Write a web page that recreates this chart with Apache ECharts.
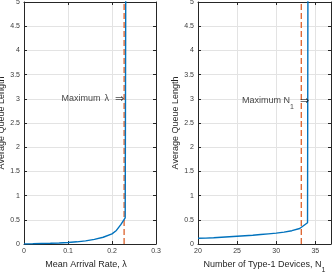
<!DOCTYPE html>
<html><head><meta charset="utf-8">
<script src="https://cdn.jsdelivr.net/npm/echarts@6/dist/echarts.min.js"></script>
<style>html,body{margin:0;padding:0;background:#fff}#c{width:332px;height:272px}</style>
</head><body><div id="c"></div>
<script>
// Left panel: mean arrival rate vs average queue length
const lambdaVals  = [0, 0.02, 0.04, 0.06, 0.08, 0.10, 0.12, 0.14, 0.16, 0.18, 0.20, 0.21, 0.22, 0.23, 0.2325];
const queueLambda = [0, 0.004, 0.009, 0.014, 0.021, 0.03, 0.045, 0.065, 0.095, 0.14, 0.21, 0.28, 0.40, 0.54, 10];
const maxLambda = 0.2275;
// Right panel: number of type-1 devices vs average queue length
const nVals  = [20, 21, 22, 23, 24, 25, 26, 27, 28, 29, 30, 31, 32, 33, 34, 34.1];
const queueN = [0.12, 0.122, 0.13, 0.14, 0.15, 0.16, 0.17, 0.18, 0.195, 0.21, 0.225, 0.245, 0.275, 0.32, 0.44, 10];
const maxN = 33.2;
const annotY = 3;
const annotNx = 34.2;
const leftX = {min: 0, max: 0.3, interval: 0.1, showMax: true};
const rightX = {min: 20, max: 37, interval: 5, showMax: false};
const yTicks = {min: 0, max: 5, interval: 0.5};

const FONT = 'Liberation Sans, Arial, sans-serif';
const AX = '#262626';
const GRIDC = '#e3e3e3';
const BLUE = '#0072BD';
const RED = '#D95319';

function zip(a, b) { return a.map((v, i) => [v, b[i]]); }

const nameRich = {
  m: {fontSize: 9, lineHeight: 11, verticalAlign: 'top', color: AX, fontFamily: FONT},
  sub: {fontSize: 7, lineHeight: 8, verticalAlign: 'top', padding: [7, 0, 0, 0], color: AX, fontFamily: FONT}
};
const annRich = {
  m: {fontSize: 9, lineHeight: 11, verticalAlign: 'top', color: '#111', fontFamily: FONT},
  sub: {fontSize: 7, lineHeight: 8, verticalAlign: 'top', padding: [7, 0, 0, 0], color: '#111', fontFamily: FONT},
  sp: {fontSize: 9, lineHeight: 11, verticalAlign: 'top', color: '#111', fontFamily: FONT, padding: [0, 0, 0, 4]},
  ar: {fontSize: 11, lineHeight: 11, verticalAlign: 'top', color: '#111', fontFamily: 'DejaVu Sans', padding: [-1, 0, 0, 6]}
};

function xAxisMain(gi, r, name, pad) {
  return {
    type: 'value', gridIndex: gi, min: r.min, max: r.max, interval: r.interval, position: 'bottom',
    axisLine: {show: true, onZero: false, lineStyle: {color: AX, width: 1}},
    axisTick: {show: true, inside: true, length: 3, lineStyle: {color: AX}},
    axisLabel: {fontSize: 7, color: '#3a3a3a', fontFamily: FONT, margin: 4, showMaxLabel: r.showMax,
      formatter: v => String(+v.toFixed(2))},
    splitLine: {show: true, lineStyle: {color: GRIDC, width: 1}},
    name: name, nameLocation: 'middle', nameGap: 13,
    nameTextStyle: {fontSize: 9, color: AX, fontFamily: FONT, rich: nameRich, padding: pad}
  };
}
function xAxisTop(gi, r) {
  return {
    type: 'value', gridIndex: gi, min: r.min, max: r.max, interval: r.interval, position: 'top',
    axisLine: {show: true, onZero: false, lineStyle: {color: AX, width: 1}},
    axisTick: {show: true, inside: true, length: 3, lineStyle: {color: AX}},
    axisLabel: {show: false}, splitLine: {show: false}
  };
}
function yAxisMain(gi) {
  return {
    type: 'value', gridIndex: gi, min: yTicks.min, max: yTicks.max, interval: yTicks.interval, position: 'left',
    axisLine: {show: true, onZero: false, lineStyle: {color: AX, width: 1}},
    axisTick: {show: true, inside: true, length: 3, lineStyle: {color: AX}},
    axisLabel: {fontSize: 7, color: '#3a3a3a', fontFamily: FONT, margin: 4},
    splitLine: {show: true, lineStyle: {color: GRIDC, width: 1}},
    name: 'Average Queue Length', nameLocation: 'middle', nameGap: 14,
    nameTextStyle: {fontSize: 9, color: AX, fontFamily: FONT}
  };
}
function yAxisRight(gi) {
  return {
    type: 'value', gridIndex: gi, min: yTicks.min, max: yTicks.max, interval: yTicks.interval, position: 'right',
    axisLine: {show: true, onZero: false, lineStyle: {color: AX, width: 1}},
    axisTick: {show: true, inside: true, length: 3, lineStyle: {color: AX}},
    axisLabel: {show: false}, splitLine: {show: false}
  };
}

const chart = echarts.init(document.getElementById('c'), null, {renderer: 'canvas'});
chart.setOption({
  animation: false,
  grid: [
    {left: 24, top: 2, width: 132, height: 242, outerBoundsMode: 'none', containLabel: false},
    {left: 198, top: 2, width: 133, height: 242, outerBoundsMode: 'none', containLabel: false}
  ],
  xAxis: [
    xAxisMain(0, leftX, '{m|Mean Arrival Rate, λ}', [0, 8, 0, 0]),
    xAxisMain(1, rightX, '{m|Number of Type-1 Devices, N}{sub|1}', [0, 0, 0, 0]),
    xAxisTop(0, leftX),
    xAxisTop(1, rightX)
  ],
  yAxis: [yAxisMain(0), yAxisMain(1), yAxisRight(0), yAxisRight(1)],
  series: [
    {type: 'line', xAxisIndex: 0, yAxisIndex: 0, data: [[maxLambda, 0], [maxLambda, 5]],
     showSymbol: false, lineStyle: {color: RED, width: 1.2, type: [6, 3]}, z: 2},
    {type: 'line', xAxisIndex: 0, yAxisIndex: 0, data: zip(lambdaVals, queueLambda),
     showSymbol: false, clip: true, lineStyle: {color: BLUE, width: 1.4}, z: 3},
    {type: 'scatter', xAxisIndex: 0, yAxisIndex: 0, data: [[maxLambda, annotY]], symbolSize: 0,
     label: {show: true, position: 'left', distance: 0, offset: [0, 1], formatter: '{m|Maximum}{sp|λ}{ar|⇒}', rich: annRich}, z: 4},
    {type: 'line', xAxisIndex: 1, yAxisIndex: 1, data: [[maxN, 0], [maxN, 5]],
     showSymbol: false, lineStyle: {color: RED, width: 1.2, type: [6, 3]}, z: 2},
    {type: 'line', xAxisIndex: 1, yAxisIndex: 1, data: zip(nVals, queueN),
     showSymbol: false, clip: true, lineStyle: {color: BLUE, width: 1.4}, z: 3},
    {type: 'scatter', xAxisIndex: 1, yAxisIndex: 1, data: [[annotNx, annotY]], symbolSize: 0,
     label: {show: true, position: 'left', distance: 0, offset: [0, 3], formatter: '{m|Maximum N}{sub|1}{ar|⇒}', rich: annRich}, z: 4}
  ]
});
</script></body></html>
